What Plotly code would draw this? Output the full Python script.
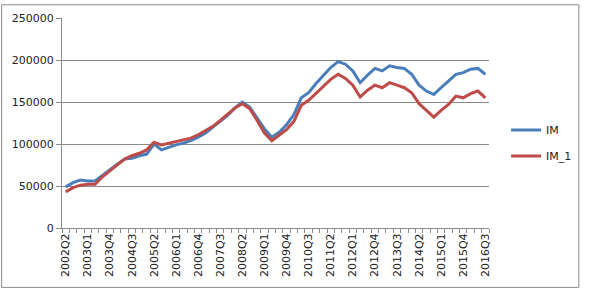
import plotly.graph_objects as go

quarters = []
for y in range(2002, 2017):
    for q in range(1, 5):
        if (y == 2002 and q < 2) or (y == 2016 and q > 3):
            continue
        quarters.append(f"{y}Q{q}")

im = [49000, 54000, 57000, 56000, 56000, 63000, 70000, 76000, 82000, 83000,
      86000, 88000, 100000, 93000, 96000, 99000, 101000, 104000, 108000, 113000,
      120000, 127000, 134000, 143000, 150000, 144000, 131000, 118000, 108000, 114000,
      123000, 135000, 155000, 161000, 172000, 182000, 191000, 198000, 195000, 187000,
      173000, 182000, 190000, 187000, 193000, 191000, 190000, 183000, 170000, 163000,
      159000, 167000, 175000, 183000, 185000, 189000, 190000, 183000]

im_1 = [43000, 48000, 51000, 52000, 52000, 61000, 68000, 75000, 82000, 86000,
        89000, 93000, 102000, 99000, 101000, 103000, 105000, 107000, 111000, 116000,
        121000, 128000, 135000, 143000, 148000, 142000, 128000, 113000, 104000, 110000,
        117000, 127000, 146000, 152000, 160000, 169000, 177000, 183000, 178000, 170000,
        156000, 164000, 170000, 167000, 173000, 170000, 167000, 161000, 148000, 140000,
        132000, 140000, 147000, 157000, 155000, 160000, 163000, 155000]

y_ticks = [0, 50000, 100000, 150000, 200000, 250000]

idx = list(range(len(quarters)))
label_idx = idx[::3]
label_txt = [quarters[i] for i in label_idx]

FONT = "DejaVu Sans"
GRID = "#8a8a8a"

fig = go.Figure()
fig.add_trace(go.Scatter(x=idx, y=im, name="IM", mode="lines", legendgroup="a",
                         line=dict(color="#4A7EBB", width=3)))
fig.add_trace(go.Scatter(x=idx, y=im_1, name="IM_1", mode="lines", legendgroup="b",
                         line=dict(color="#BE4B48", width=3)))

L, R, T, B = 62, 92, 14, 61
W, H = 589, 289
pw, ph = W - L - R, H - T - B

fig.update_layout(
    width=W, height=H,
    margin=dict(l=L, r=R, t=T, b=B),
    paper_bgcolor="white", plot_bgcolor="white",
    font=dict(family=FONT, size=11, color="#222"),
    showlegend=True,
    legend=dict(x=1.04, y=0.405, xanchor="left", yanchor="middle",
                font=dict(size=11, family=FONT, color="#222"),
                bgcolor="rgba(0,0,0,0)", tracegroupgap=7),
    xaxis=dict(range=[-0.5, len(quarters) - 0.5], tickmode="array",
               tickvals=label_idx, ticktext=label_txt, tickangle=-90,
               ticks="", showgrid=False, zeroline=False,
               showline=True, linecolor=GRID, linewidth=1,
               tickfont=dict(size=11, family=FONT, color="#222"),
               minor=dict(tickmode="array",
                          tickvals=[i - 0.5 for i in range(len(quarters) + 1)],
                          ticks="outside", ticklen=4, tickcolor=GRID,
                          showgrid=False)),
    yaxis=dict(range=[0, 250000], tickmode="array", tickvals=y_ticks,
               ticktext=[str(v) for v in y_ticks],
               ticks="outside", ticklen=5, tickcolor=GRID,
               showgrid=True, gridcolor=GRID, gridwidth=1,
               zeroline=False, showline=True, linecolor=GRID, linewidth=1,
               tickfont=dict(size=11, family=FONT, color="#222")),
    shapes=[dict(type="rect", xref="paper", yref="paper",
                 x0=(0.5 - L) / pw, x1=(W - 0.5 - L) / pw,
                 y0=-(B - 0.5) / ph, y1=1 + (T - 0.5) / ph,
                 line=dict(color="#8a8a8a", width=1),
                 fillcolor="rgba(0,0,0,0)", layer="above")],
)

fig.write_html("out.html", config={"displayModeBar": False},
               post_script="document.body.style.margin='0';document.body.style.overflow='hidden';")
